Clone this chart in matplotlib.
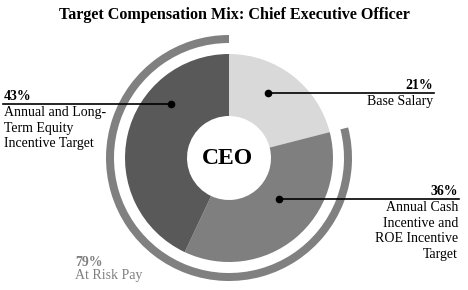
import matplotlib.pyplot as plt

# data
segments = ["Base Salary", "Annual Cash\nIncentive and\nROE Incentive\nTarget",
            "Annual and Long-\nTerm Equity\nIncentive Target"]
shares = [21, 36, 43]
at_risk_label = "At Risk Pay"
center_label = "CEO"
title = "Target Compensation Mix: Chief Executive Officer"

seg_colors = ["#d9d9d9", "#7f7f7f", "#595959"]
ring_color = "#808080"

W, H = 468, 290
plt.rcParams['font.family'] = ['Liberation Serif', 'DejaVu Serif']

fig = plt.figure(figsize=(W / 100, H / 100), dpi=100)
ax = fig.add_axes([0, 0, 1, 1])

cx, cy = 229, H - 158
r_pie, r_hole = 104, 42
r_ring, ring_w = 123, 8

# main donut, clockwise from 12 o'clock
ax.pie(shares, colors=seg_colors, startangle=90, counterclock=False,
       radius=r_pie, center=(cx, cy), frame=True,
       wedgeprops=dict(width=r_pie - r_hole, linewidth=0))

# outer ring for at-risk share (everything but base salary)
at_risk = sum(shares[1:])
ax.pie([at_risk, 100 - at_risk], colors=[ring_color, "none"],
       startangle=90 - 3.6 * shares[0], counterclock=False,
       radius=r_ring, center=(cx, cy), frame=True,
       wedgeprops=dict(width=ring_w, linewidth=0))
ax.set_xlim(0, W)
ax.set_ylim(0, H)
ax.set_aspect("equal")
ax.axis("off")

ax.text(cx - 2, cy, center_label, ha="center", va="center",
        fontsize=17, fontweight="bold", color="black")

fig.text(0.5, 1 - 15 / H, title, ha="center", va="center",
         fontsize=11.6, fontweight="bold")

# callouts: (dot x, dot y, line end x, text x, align)
callouts = [
    (268, 93, 434, 433, "right"),
    (279, 199, 459, 458, "right"),
    (171, 104, 3, 4, "left"),
]
for (dx, dy, lx, tx, ha), pct, lab in zip(callouts, shares, segments):
    ax.plot([dx, lx], [H - dy, H - dy], color="black", lw=1.2)
    ax.plot(dx, H - dy, "o", color="black", ms=4.5)
    ax.text(tx, H - dy + 1, f"{pct}%", ha=ha, va="bottom",
            fontsize=10, fontweight="bold")
    ax.text(tx, H - dy - 2, lab, ha=ha, va="top", fontsize=10,
            linespacing=1.27, multialignment=ha)

ax.text(75, H - 262, f"{at_risk}%", ha="left", va="center",
        fontsize=10, fontweight="bold", color=ring_color)
ax.text(75, H - 276, at_risk_label, ha="left", va="center",
        fontsize=10, color=ring_color)

fig.savefig("out.png", dpi=100)
